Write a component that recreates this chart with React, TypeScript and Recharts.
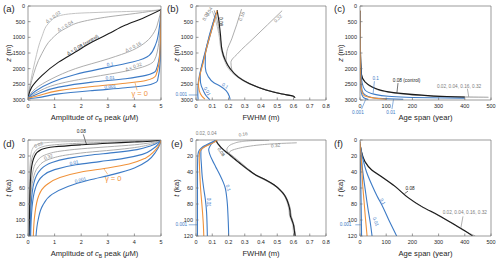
import React from "react";
import { LineChart, Line, XAxis, YAxis, ReferenceDot, ReferenceLine } from "recharts";

const FONT = "'Liberation Sans', Arial, Helvetica, sans-serif";
const INK = "#262626";
const FRAME = "#707070";
const GRAY = "#a4a4a4";
const LGRAY = "#bcbcbc";
const BLACK = "#1a1a1a";
const BLUE = "#3d7bc6";
const ORANGE = "#f0923a";
const TXT_GRAY = "#7c7c7c";

// tick values
const ampTicks = [0, 1, 2, 3, 4, 5];
const fwhmTicks = [0, 0.1, 0.2, 0.3, 0.4, 0.5, 0.6, 0.7, 0.8];
const ageTicks = [0, 100, 200, 300, 400, 500];
const depthTicks = [0, 500, 1000, 1500, 2000, 2500, 3000];
const timeTicks = [0, 20, 40, 60, 80, 100, 120];

// (a) amplitude of cB peak (uM) vs depth z (m)
const aD002 = [[0, 2920], [0.08, 2500], [0.27, 1735], [0.52, 985], [0.77, 557], [1.15, 321], [1.78, 236], [3.04, 193], [4.3, 160], [5, 120]];
const aD004 = [[0, 2920], [0.14, 2380], [0.52, 1520], [0.9, 1040], [1.4, 720], [2.03, 500], [3.04, 343], [4.05, 236], [5, 120]];
const aD008 = [[0, 2920], [0.14, 2590], [0.52, 2220], [1.15, 1790], [1.78, 1470], [2.41, 1150], [3.04, 880], [3.67, 610], [4.3, 396], [5, 120]];
const aD016 = [[0, 2920], [0.27, 2645], [0.9, 2320], [1.78, 2000], [3.04, 1680], [3.93, 1410], [4.43, 1150], [4.75, 825], [4.91, 450], [5, 120]];
const aD032 = [[0, 2925], [0.27, 2785], [1.15, 2485], [2.41, 2270], [3.67, 2080], [4.3, 1950], [4.75, 1735], [4.91, 1200], [5, 120]];
const aG01 = [[0, 2922], [0.27, 2720], [0.9, 2430], [1.78, 2185], [3.04, 1950], [3.93, 1790], [4.56, 1575], [4.81, 1200], [4.94, 665], [5, 120]];
const aG001 = [[0, 2930], [0.27, 2840], [1.15, 2590], [2.41, 2430], [3.67, 2320], [4.43, 2215], [4.81, 2060], [4.96, 1415], [5, 120]];
const aG0 = [[0, 2940], [0.27, 2890], [1.15, 2700], [2.41, 2570], [3.67, 2465], [4.43, 2380], [4.81, 2215], [4.96, 1520], [5, 120]];
const aG0001 = [[0, 2960], [0.27, 2935], [1.15, 2805], [2.41, 2700], [3.67, 2610], [4.43, 2540], [4.87, 2380], [4.97, 1735], [5, 120]];

// (b) FWHM (m) vs depth z (m)
const bD002 = [[0.1, 160], [0.12, 450], [0.14, 880], [0.155, 1410], [0.175, 1735], [0.2, 2000], [0.25, 2250], [0.32, 2470], [0.43, 2675], [0.53, 2805], [0.595, 2875], [0.6, 2920]];
const bD004 = [[0.112, 140], [0.13, 450], [0.145, 880], [0.162, 1410], [0.185, 1750], [0.215, 2020], [0.265, 2280], [0.335, 2490], [0.435, 2685], [0.535, 2815], [0.602, 2885], [0.605, 2940]];
const bD016 = [[0.28, 100], [0.25, 600], [0.22, 1050], [0.19, 1450], [0.185, 1750], [0.21, 2010], [0.262, 2275], [0.335, 2490], [0.435, 2683], [0.533, 2812], [0.6, 2882], [0.607, 2925]];
const bD032 = [[0.53, 150], [0.44, 600], [0.35, 1050], [0.26, 1500], [0.215, 1800], [0.22, 2020], [0.27, 2285], [0.34, 2495], [0.44, 2688], [0.538, 2816], [0.6, 2884], [0.603, 2915]];
const bD008 = [[0.13, 130], [0.14, 450], [0.15, 880], [0.16, 1410], [0.18, 1735], [0.21, 2000], [0.26, 2270], [0.33, 2485], [0.43, 2680], [0.53, 2810], [0.6, 2880], [0.61, 2930]];
const bG01 = [[0.12, 300], [0.095, 700], [0.072, 1150], [0.058, 1550], [0.057, 1950], [0.075, 2250], [0.11, 2450], [0.15, 2560], [0.185, 2700], [0.205, 2880], [0.21, 2985]];
const bG001 = [[0.124, 230], [0.097, 750], [0.068, 1300], [0.042, 1800], [0.026, 2200], [0.028, 2450], [0.045, 2700], [0.065, 2880], [0.085, 2985]];
const bG0 = [[0.13, 150], [0.1, 700], [0.07, 1250], [0.045, 1800], [0.022, 2250], [0.015, 2500], [0.02, 2700], [0.035, 2870], [0.055, 2975]];
const bG0001 = [[0.122, 220], [0.095, 750], [0.065, 1300], [0.04, 1800], [0.02, 2250], [0.012, 2550], [0.011, 2800], [0.013, 2985]];

// (c) age span (year) vs depth z (m)
const cDall1 = [[0, 150], [1, 1000], [3, 1800], [6, 2200], [19, 2425], [45, 2585], [108, 2745], [235, 2850], [362, 2897], [490, 2912]];
const cDall2 = [[0, 160], [1, 1010], [3, 1810], [6, 2210], [19, 2430], [45, 2590], [108, 2750], [235, 2855], [362, 2902], [490, 2918]];
const cD008 = [[0, 150], [1, 1000], [3, 1800], [6, 2200], [19, 2420], [45, 2580], [108, 2740], [235, 2845], [362, 2900], [400, 2908]];
const cG01 = [[0, 200], [1, 1200], [3, 2000], [8, 2450], [19, 2680], [57, 2820], [108, 2880], [200, 2920], [400, 2945]];
const cG001 = [[0, 200], [1, 1500], [3, 2300], [8, 2700], [20, 2840], [45, 2920], [108, 2962], [165, 2975]];
const cG0 = [[0, 150], [1, 1500], [3, 2400], [6, 2680], [13, 2840], [38, 2915], [89, 2968], [100, 2975]];
const cG0001 = [[0, 200], [1, 1800], [3, 2600], [8, 2850], [20, 2955], [32, 2985]];

// (d) amplitude of cB peak (uM) vs time t (ka)
const dD002 = [[0.03, 120], [0.05, 50], [0.1, 20], [0.2, 9], [0.4, 5], [0.8, 3], [1.5, 2], [2.5, 1.4], [3.5, 1], [4.5, 0.5], [5, 0]];
const dD004 = [[0.04, 120], [0.06, 60], [0.12, 28], [0.25, 15], [0.5, 9], [1.0, 6], [2.0, 4], [3.0, 2.8], [4.0, 1.8], [4.7, 0.9], [5, 0]];
const dD008 = [[0.05, 120], [0.07, 70], [0.12, 38], [0.25, 20], [0.5, 12], [1.0, 8.5], [2.0, 6], [3.0, 4], [4.0, 2.5], [4.7, 1.2], [5, 0]];
const dD016 = [[0.06, 120], [0.09, 70], [0.18, 40], [0.35, 26], [0.7, 18], [1.2, 14], [2.0, 11], [3.0, 8.5], [4.0, 6], [4.6, 3.5], [5, 0]];
const dD032 = [[0.07, 120], [0.1, 75], [0.2, 48], [0.4, 33], [0.8, 24], [1.4, 19], [2.2, 15.5], [3.2, 12.5], [4.0, 9.5], [4.6, 5.5], [4.9, 2], [5, 0]];
const dG01 = [[0.08, 120], [0.12, 80], [0.22, 54], [0.45, 38], [0.9, 28], [1.5, 23], [2.3, 19], [3.3, 15.5], [4.1, 12], [4.6, 7.5], [4.9, 3], [5, 0]];
const dG001 = [[0.1, 120], [0.15, 85], [0.28, 60], [0.55, 45], [1.0, 37], [1.8, 31], [2.7, 27], [3.6, 23], [4.3, 18], [4.7, 11], [4.93, 4], [5, 0]];
const dG0 = [[0.2, 120], [0.25, 95], [0.4, 70], [0.7, 56], [1.2, 47], [2.0, 40], [3.0, 35], [3.8, 30], [4.4, 23], [4.75, 14], [4.95, 5], [5, 0]];
const dG0001 = [[0.3, 120], [0.38, 100], [0.55, 82], [0.9, 68], [1.5, 58], [2.3, 50], [3.2, 43], [4.0, 35], [4.5, 26], [4.8, 15], [4.96, 5], [5, 0]];

// (e) FWHM (m) vs time t (ka)
const eD002 = [[0.115, 0], [0.125, 3], [0.14, 7], [0.155, 10.5], [0.18, 15], [0.205, 19], [0.235, 24], [0.265, 29], [0.315, 37], [0.365, 44], [0.425, 50], [0.475, 56], [0.515, 63], [0.54, 69], [0.555, 75], [0.565, 81], [0.572, 88], [0.575, 94], [0.585, 100], [0.595, 106], [0.598, 113], [0.602, 120]];
const eD004 = [[0.12, 0], [0.128, 3], [0.142, 7], [0.158, 10.5], [0.19, 15], [0.22, 19], [0.25, 24], [0.28, 29], [0.325, 37], [0.372, 44], [0.432, 50], [0.482, 56], [0.523, 63], [0.548, 69], [0.563, 75], [0.574, 81], [0.582, 88], [0.585, 94], [0.594, 100], [0.603, 106], [0.608, 113], [0.612, 120]];
const eD016 = [[0.45, 0.2], [0.35, 0.8], [0.28, 2], [0.23, 4.5], [0.2, 8], [0.19, 12], [0.2, 16], [0.222, 22], [0.25, 26], [0.28, 30], [0.325, 37], [0.37, 44], [0.43, 50], [0.48, 56], [0.52, 63], [0.545, 69], [0.56, 75], [0.572, 81], [0.58, 88], [0.583, 94], [0.592, 100], [0.6, 106], [0.606, 113], [0.61, 120]];
const eD032 = [[0.62, 3.5], [0.5, 4.5], [0.4, 6], [0.32, 8], [0.26, 10.5], [0.22, 13], [0.205, 16], [0.21, 19], [0.23, 23], [0.255, 27], [0.285, 31], [0.33, 38], [0.375, 45], [0.432, 51], [0.482, 57], [0.522, 64], [0.546, 70], [0.561, 76], [0.573, 82], [0.581, 89], [0.584, 95], [0.593, 101], [0.601, 107], [0.607, 114], [0.611, 120]];
const eD008 = [[0.125, 0], [0.13, 3], [0.145, 7], [0.16, 10.5], [0.185, 15], [0.21, 19], [0.24, 24], [0.27, 29], [0.32, 37], [0.37, 44], [0.43, 50], [0.48, 56], [0.52, 63], [0.545, 69], [0.56, 75], [0.57, 81], [0.578, 88], [0.58, 94], [0.59, 100], [0.6, 106], [0.605, 113], [0.61, 120]];
const eG01 = [[0.12, 1], [0.1, 4], [0.085, 8], [0.078, 12], [0.085, 18], [0.1, 25], [0.12, 33], [0.148, 44], [0.168, 53], [0.18, 60], [0.188, 70], [0.193, 80], [0.197, 95], [0.2, 110], [0.201, 120]];
const eG001 = [[0.12, 1.2], [0.095, 4], [0.065, 7], [0.04, 10], [0.03, 14], [0.03, 20], [0.033, 30], [0.038, 45], [0.047, 60], [0.058, 75], [0.065, 90], [0.068, 105], [0.07, 120]];
const eG0 = [[0.13, 0], [0.11, 3], [0.08, 6], [0.05, 9], [0.03, 12], [0.022, 16], [0.02, 22], [0.021, 30], [0.024, 45], [0.028, 60], [0.034, 75], [0.04, 90], [0.045, 105], [0.048, 120]];
const eG0001 = [[0.12, 0.5], [0.09, 3.5], [0.06, 6.5], [0.035, 9.5], [0.02, 13], [0.012, 18], [0.01, 25], [0.009, 40], [0.009, 60], [0.009, 80], [0.009, 100], [0.009, 120]];

// (f) age span (year) vs time t (ka)
const fDall1 = [[0, 5], [3, 10], [6, 15], [19, 27.5], [45, 38], [83, 46.5], [134, 58.5], [184, 72.5], [235, 83.5], [299, 94.5], [362, 106.5], [400, 114], [440, 120]];
const fD008 = [[0, 5], [3, 10], [6, 15], [19, 27], [45, 37.5], [83, 46], [134, 58], [184, 72], [235, 83], [299, 94], [362, 106], [400, 113.5], [430, 120]];
const fG01 = [[0, 5], [10, 22], [25, 40], [45, 56], [65, 70], [83, 81], [110, 100], [140, 120]];
const fG001 = [[0, 5], [5, 20], [10, 38], [20, 62], [30, 85], [40, 105], [46, 120]];
const fG0 = [[0, 2], [3, 15], [6, 30], [10, 55], [15, 75], [20, 95], [27, 120]];
const fG0001 = [[0, 2], [1.5, 25], [3, 55], [4.5, 85], [6, 120]];

type Series = { d: number[][]; c: string; w?: number };
type Note = { x: number; y: number; t: string; c: string; r?: number; s?: number; on?: boolean };
type Leader = [number, number, number, number, string];

const toPts = (d: number[][]) => d.map(([x, y]) => ({ x, y }));

function NoteText(props: any) {
  const vb = props.viewBox;
  const n: Note = props.note;
  if (!vb || !n) return null;
  const x = vb.x + (vb.width || 0) / 2;
  const y = vb.y + (vb.height || 0) / 2;
  return (
    <text
      x={x}
      y={y}
      dy={n.on ? -0.9 : 0}
      fill={n.c}
      fontSize={n.s ?? 4.7}
      fontFamily={FONT}
      textAnchor="middle"
      dominantBaseline={n.on ? "auto" : "central"}
      transform={n.r ? `rotate(${n.r} ${x} ${y})` : undefined}
    >
      {n.t}
    </text>
  );
}

function AxisTitle(props: any) {
  const vb = props.viewBox;
  if (!vb) return null;
  if (props.side === "x") {
    const x = vb.x + vb.width / 2;
    const y = vb.y + 20;
    return (
      <text x={x} y={y} textAnchor="middle" fontSize={7.6} fontFamily={FONT} fill={INK}>
        {props.node}
      </text>
    );
  }
  const x = vb.x + 10.5;
  const y = vb.y + vb.height / 2;
  return (
    <text x={x} y={y} textAnchor="middle" fontSize={7.6} fontFamily={FONT} fill={INK} transform={`rotate(-90 ${x} ${y})`}>
      {props.node}
    </text>
  );
}

const ampTitle = (
  <>
    Amplitude of <tspan fontStyle="italic">c</tspan>
    <tspan fontSize={5} dy={1.6}>B</tspan>
    <tspan dy={-1.6}> peak (</tspan>
    <tspan fontStyle="italic">μ</tspan>M)
  </>
);
const fwhmTitle = <>FWHM (m)</>;
const ageTitle = <>Age span (year)</>;
const zTitle = (
  <>
    <tspan fontStyle="italic">z</tspan> (m)
  </>
);
const tTitle = (
  <>
    <tspan fontStyle="italic">t</tspan> (ka)
  </>
);

type PanelProps = {
  left: number; top: number; w: number; h: number;
  xDom: [number, number]; xTicks: number[]; yDom: [number, number]; yTicks: number[];
  series: Series[]; notes: Note[]; leaders: Leader[];
  xTitle: React.ReactNode; yTitle: React.ReactNode;
};

const YW = 28;
const XH = 30;
const MR = 5;
const MT = 11;
const tickStyle = { fontSize: 5.5, fill: INK, fontFamily: FONT };

function Panel(p: PanelProps) {
  const W = YW + p.w + 1 + MR;
  const H = MT + 1 + p.h + XH;
  return (
    <div style={{ position: "absolute", left: p.left - YW, top: p.top - MT - 1 }}>
      <LineChart width={W} height={H} margin={{ top: MT, right: MR, bottom: 0, left: 0 }}>
        <XAxis type="number" dataKey="x" domain={p.xDom} ticks={p.xTicks} interval={0} allowDataOverflow height={XH}
          tickSize={-2.5} tickMargin={7} stroke={FRAME} strokeWidth={0.7} tick={tickStyle}
          label={<AxisTitle side="x" node={p.xTitle} />} />
        <XAxis xAxisId="top" orientation="top" type="number" domain={p.xDom} ticks={p.xTicks} interval={0} allowDataOverflow
          height={1} tickSize={-2.5} tick={false} stroke={FRAME} strokeWidth={0.7} />
        <YAxis type="number" domain={p.yDom} ticks={p.yTicks} interval={0} reversed allowDataOverflow width={YW}
          tickSize={-2.5} tickMargin={5.5} stroke={FRAME} strokeWidth={0.7} tick={tickStyle}
          label={<AxisTitle side="y" node={p.yTitle} />} />
        <YAxis yAxisId="right" orientation="right" type="number" domain={p.yDom} ticks={p.yTicks} interval={0} reversed allowDataOverflow
          width={1} tickSize={-2.5} tick={false} stroke={FRAME} strokeWidth={0.7} />
        {p.series.map((s, i) => (
          <Line key={"s" + i} data={toPts(s.d)} dataKey="y" type="monotoneY" stroke={s.c} strokeWidth={s.w ?? 1}
            dot={false} activeDot={false} isAnimationActive={false} />
        ))}
        {p.leaders.map((l, i) => (
          <ReferenceLine key={"l" + i} segment={[{ x: l[0], y: l[1] }, { x: l[2], y: l[3] }]} stroke={l[4]} strokeWidth={0.6} ifOverflow="visible" />
        ))}
        {p.notes.map((n, i) => (
          <ReferenceDot key={"n" + i} x={n.x} y={n.y} r={0} fill="none" stroke="none" ifOverflow="visible" label={<NoteText note={n} />} />
        ))}
      </LineChart>
    </div>
  );
}

const deltaSeries = (d002: number[][], d004: number[][], d016: number[][], d032: number[][], d008: number[][]): Series[] => [
  { d: d002, c: LGRAY, w: 0.9 },
  { d: d004, c: GRAY, w: 0.9 },
  { d: d016, c: GRAY, w: 0.9 },
  { d: d032, c: GRAY, w: 0.9 },
  { d: d008, c: BLACK, w: 1.1 },
];
const gammaSeries = (g01: number[][], g001: number[][], g0: number[][], g0001: number[][]): Series[] => [
  { d: g01, c: BLUE, w: 1.1 },
  { d: g001, c: BLUE, w: 1.1 },
  { d: g0001, c: BLUE, w: 1.1 },
  { d: g0, c: ORANGE, w: 1.1 },
];

const notesA: Note[] = [
  { x: 1.0, y: 414, t: "Δ = 0.02", c: TXT_GRAY, r: -36, on: true },
  { x: 1.45, y: 703, t: "Δ = 0.04", c: TXT_GRAY, r: -30, on: true },
  { x: 2.1, y: 1307, t: "Δ = 0.08 (control)", c: BLACK, r: -30, on: true },
  { x: 4.0, y: 1375, t: "Δ = 0.16", c: TXT_GRAY, r: -28, on: true },
  { x: 3.1, y: 1939, t: "0.1", c: BLUE, r: -8, on: true },
  { x: 4.0, y: 2012, t: "Δ = 0.32", c: TXT_GRAY, r: -20, on: true },
  { x: 3.1, y: 2370, t: "0.01", c: BLUE, r: -6, on: true },
  { x: 3.1, y: 2651, t: "0.001", c: BLUE, r: -5, on: true },
  { x: 4.2, y: 2790, t: "γ = 0", c: ORANGE, s: 7.5 },
];
const leadersA: Leader[] = [[4.1, 2690, 4.02, 2440, ORANGE]];

const notesB: Note[] = [
  { x: 0.06, y: 330, t: "0.02", c: TXT_GRAY, r: -62 },
  { x: 0.082, y: 180, t: "0.04", c: TXT_GRAY, r: -62 },
  { x: 0.153, y: 500, t: "0.08", c: BLACK, r: 90 },
  { x: 0.282, y: 330, t: "0.16", c: TXT_GRAY, r: -69 },
  { x: 0.505, y: 400, t: "0.32", c: TXT_GRAY, r: -43 },
  { x: 0.17, y: 2610, t: "0.1", c: BLUE, r: 35, on: true },
  { x: 0.068, y: 2720, t: "0.01", c: BLUE, r: 62 },
  { x: -0.09, y: 2840, t: "0.001", c: BLUE },
];
const leadersB: Leader[] = [[-0.045, 2840, 0.01, 2840, BLUE]];

const notesC: Note[] = [
  { x: 60, y: 2300, t: "0.1", c: BLUE },
  { x: 178, y: 2370, t: "0.08 (control)", c: BLACK },
  { x: 378, y: 2560, t: "0.02, 0.04, 0.16, 0.32", c: TXT_GRAY },
  { x: -8, y: 3390, t: "0.001", c: BLUE },
  { x: 118, y: 3390, t: "0.01", c: BLUE },
];
const leadersC: Leader[] = [
  [55, 2400, 50, 2790, BLUE],
  [145, 2460, 141, 2765, BLACK],
  [410, 2640, 415, 2900, TXT_GRAY],
  [6, 3290, 22, 2975, BLUE],
  [122, 3290, 128, 2975, BLUE],
];

const notesD: Note[] = [
  { x: 2.0, y: -11, t: "0.08", c: BLACK },
  { x: 0.4, y: 6, t: "0.02", c: TXT_GRAY, r: -22 },
  { x: 0.8, y: 24, t: "0.32", c: TXT_GRAY, r: -22, on: true },
  { x: 1.75, y: 31.4, t: "0.01", c: BLUE, r: -12, on: true },
  { x: 2.0, y: 53, t: "0.001", c: BLUE, r: -15, on: true },
  { x: 3.2, y: 48, t: "γ = 0", c: ORANGE, s: 7.5 },
];
const leadersD: Leader[] = [
  [2.08, -7, 2.2, 5.6, BLACK],
  [3.0, 43, 2.85, 35.8, ORANGE],
];

const notesE: Note[] = [
  { x: 0.062, y: -8, t: "0.02, 0.04", c: TXT_GRAY },
  { x: 0.29, y: -7, t: "0.16", c: TXT_GRAY, r: -10 },
  { x: 0.49, y: 7, t: "0.32", c: TXT_GRAY, r: -8 },
  { x: 0.155, y: 15, t: "0.08", c: BLACK, r: 55 },
  { x: 0.198, y: 60, t: "0.1", c: BLUE, r: 72 },
  { x: 0.075, y: 78, t: "0.01", c: BLUE, r: 90 },
  { x: -0.09, y: 106, t: "0.001", c: BLUE },
];
const leadersE: Leader[] = [[-0.045, 106, 0.008, 106, BLUE]];

const notesF: Note[] = [
  { x: 191, y: 60, t: "0.08", c: BLACK },
  { x: 400, y: 91, t: "0.02, 0.04, 0.16, 0.32", c: TXT_GRAY },
  { x: 86, y: 77, t: "0.1", c: BLUE, r: 62 },
  { x: 60, y: 102, t: "0.01", c: BLUE, r: 70 },
  { x: -55, y: 106, t: "0.001", c: BLUE },
];
const leadersF: Leader[] = [
  [183, 64, 170, 67, BLACK],
  [393, 95.5, 385, 110, TXT_GRAY],
  [-18, 106, 3, 106, BLUE],
];

const letters = [
  { t: "(a)", x: 3, y: 4 },
  { t: "(b)", x: 167, y: 4 },
  { t: "(c)", x: 334, y: 4 },
  { t: "(d)", x: 3, y: 139 },
  { t: "(e)", x: 171, y: 139 },
  { t: "(f)", x: 334, y: 139 },
];

export default function App() {
  return (
    <div style={{ position: "absolute", left: 0, top: 0, width: 500, height: 263, overflow: "hidden", background: "#fff" }}>
      <Panel left={28} top={6} w={133} h={94} xDom={[0, 5]} xTicks={ampTicks} yDom={[0, 3000]} yTicks={depthTicks}
        series={[...deltaSeries(aD002, aD004, aD016, aD032, aD008), ...gammaSeries(aG01, aG001, aG0, aG0001)]}
        notes={notesA} leaders={leadersA} xTitle={ampTitle} yTitle={zTitle} />
      <Panel left={196} top={6} w={130} h={94} xDom={[0, 0.8]} xTicks={fwhmTicks} yDom={[0, 3000]} yTicks={depthTicks}
        series={[...deltaSeries(bD002, bD004, bD016, bD032, bD008), ...gammaSeries(bG01, bG001, bG0, bG0001)]}
        notes={notesB} leaders={leadersB} xTitle={fwhmTitle} yTitle={zTitle} />
      <Panel left={360} top={6} w={131} h={94} xDom={[0, 500]} xTicks={ageTicks} yDom={[0, 3000]} yTicks={depthTicks}
        series={[{ d: cDall1, c: GRAY, w: 0.9 }, { d: cDall2, c: LGRAY, w: 0.9 }, { d: cD008, c: BLACK, w: 1.1 }, ...gammaSeries(cG01, cG001, cG0, cG0001)]}
        notes={notesC} leaders={leadersC} xTitle={ageTitle} yTitle={zTitle} />
      <Panel left={28} top={140} w={133} h={96} xDom={[0, 5]} xTicks={ampTicks} yDom={[0, 120]} yTicks={timeTicks}
        series={[...deltaSeries(dD002, dD004, dD016, dD032, dD008), ...gammaSeries(dG01, dG001, dG0, dG0001)]}
        notes={notesD} leaders={leadersD} xTitle={ampTitle} yTitle={tTitle} />
      <Panel left={196} top={140} w={130} h={96} xDom={[0, 0.8]} xTicks={fwhmTicks} yDom={[0, 120]} yTicks={timeTicks}
        series={[...deltaSeries(eD002, eD004, eD016, eD032, eD008), ...gammaSeries(eG01, eG001, eG0, eG0001)]}
        notes={notesE} leaders={leadersE} xTitle={fwhmTitle} yTitle={tTitle} />
      <Panel left={360} top={140} w={131} h={96} xDom={[0, 500]} xTicks={ageTicks} yDom={[0, 120]} yTicks={timeTicks}
        series={[{ d: fDall1, c: GRAY, w: 0.9 }, { d: fD008, c: BLACK, w: 1.1 }, ...gammaSeries(fG01, fG001, fG0, fG0001)]}
        notes={notesF} leaders={leadersF} xTitle={ageTitle} yTitle={tTitle} />
      {letters.map((l) => (
        <div key={l.t} style={{ position: "absolute", left: l.x, top: l.y, fontFamily: FONT, fontSize: 9.5, lineHeight: 1, color: INK }}>
          {l.t}
        </div>
      ))}
    </div>
  );
}
